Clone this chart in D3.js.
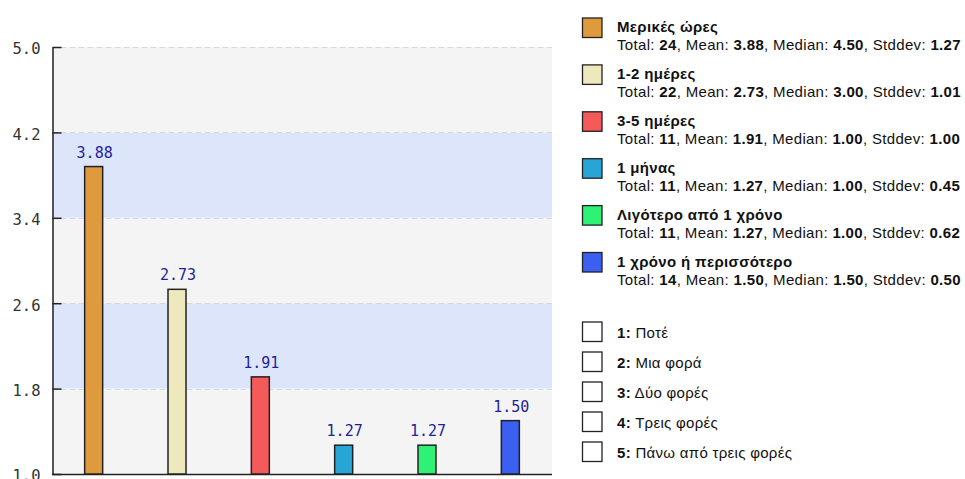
<!DOCTYPE html>
<html><head><meta charset="utf-8">
<script src="https://cdn.jsdelivr.net/npm/d3@7"></script>
<style>body{margin:0;background:#fff}svg{display:block}</style>
</head><body>
<svg id="c" width="965" height="479"></svg>
<script>
const categories = ["Μερικές ώρες","1-2 ημέρες","3-5 ημέρες","1 μήνας","Λιγότερο από 1 χρόνο","1 χρόνο ή περισσότερο"];
const means = [3.88, 2.73, 1.91, 1.27, 1.27, 1.50];
const totals = [24, 22, 11, 11, 11, 14];
const medians = ["4.50","3.00","1.00","1.00","1.00","1.50"];
const stddevs = ["1.27","1.01","1.00","0.45","0.62","0.50"];
const colors = ["#e09a3e","#eee9bd","#f45a5a","#27a6d5","#2ff173","#3b5ff0"];
const yTicks = [1.0, 1.8, 2.6, 3.4, 4.2, 5.0];
const scaleLabels = ["Ποτέ","Μια φορά","Δύο φορές","Τρεις φορές","Πάνω από τρεις φορές"];

const svg = d3.select("#c");
const L = 52, R = 552, T = 47, B = 474;
const x = d3.scaleBand().domain(categories).range([L, R]);
const y = d3.scaleLinear().domain([1, 5]).range([B, T]);

// background bands
for (let i = 0; i < yTicks.length - 1; i++) {
  svg.append("rect").attr("x", L).attr("width", R - L)
    .attr("y", y(yTicks[i+1])).attr("height", y(yTicks[i]) - y(yTicks[i+1]))
    .attr("fill", (yTicks.length - 2 - i) % 2 === 1 ? "#dde5fb" : "#f4f4f4");
}
// dashed grid
svg.append("g").selectAll("line").data(yTicks.slice(1)).join("line")
  .attr("x1", L).attr("x2", R).attr("y1", d => Math.round(y(d)) + 0.5).attr("y2", d => Math.round(y(d)) + 0.5)
  .attr("stroke", "#d8d8d8").attr("stroke-dasharray", "5,4");

// y axis
const ya = d3.axisLeft(y).tickValues(yTicks).tickFormat(d3.format(".1f")).tickSize(0).tickPadding(12);
const gy = svg.append("g").attr("transform", `translate(${L + 0.5},0)`).call(ya);
gy.select(".domain").attr("stroke", "#222").attr("stroke-width", 1.5);
gy.selectAll(".tick").append("line").attr("x1", 0).attr("x2", 9).attr("stroke", "#222").attr("stroke-width", 1.5);
gy.selectAll(".tick text").attr("font-family", "DejaVu Sans Mono").attr("font-size", 15.5).attr("fill", "#333").attr("dy", "0.45em");

// x axis line
svg.append("line").attr("x1", L).attr("x2", R).attr("y1", B + 0.5).attr("y2", B + 0.5).attr("stroke", "#222").attr("stroke-width", 1.5);

// bars
const bw = 18;
svg.append("g").selectAll("rect").data(categories).join("rect")
  .attr("x", d => x(d) + x.bandwidth() / 2 - bw / 2)
  .attr("width", bw)
  .attr("y", (d, i) => y(means[i]))
  .attr("height", (d, i) => B - y(means[i]))
  .attr("fill", (d, i) => colors[i])
  .attr("stroke", "#222").attr("stroke-width", 1.5);

// value labels
svg.append("g").selectAll("text").data(categories).join("text")
  .attr("x", d => x(d) + x.bandwidth() / 2 + 1)
  .attr("y", (d, i) => y(means[i]) - 9)
  .attr("text-anchor", "middle")
  .attr("font-family", "DejaVu Sans Mono").attr("font-size", 15)
  .attr("fill", "#1f1f9a")
  .text((d, i) => means[i].toFixed(2));

// legend 1
const lg = svg.append("g").attr("font-family", "Liberation Sans, Arial, sans-serif").attr("fill", "#111");
categories.forEach((c, i) => {
  const yy = 17.5 + i * 46.9;
  lg.append("rect").attr("x", 582.5).attr("y", yy + 0.5).attr("width", 19.5).attr("height", 19.5)
    .attr("fill", colors[i]).attr("stroke", "#222").attr("stroke-width", 1.3);
  lg.append("text").attr("x", 617).attr("y", yy + 14.5).attr("font-size", 15).attr("font-weight", "bold").attr("letter-spacing", "0.35px").text(c);
  const t = lg.append("text").attr("x", 617).attr("y", yy + 32.5).attr("font-size", 15).attr("letter-spacing", "0.33px");
  t.append("tspan").text("Total: ");
  t.append("tspan").attr("font-weight", "bold").text(totals[i]);
  t.append("tspan").text(", Mean: ");
  t.append("tspan").attr("font-weight", "bold").text(means[i].toFixed(2));
  t.append("tspan").text(", Median: ");
  t.append("tspan").attr("font-weight", "bold").text(medians[i]);
  t.append("tspan").text(", Stddev: ");
  t.append("tspan").attr("font-weight", "bold").text(stddevs[i]);
});

// legend 2
scaleLabels.forEach((s, i) => {
  const yy = 321.5 + i * 30;
  lg.append("rect").attr("x", 582.5).attr("y", yy + 0.5).attr("width", 19.5).attr("height", 19.5)
    .attr("fill", "#fff").attr("stroke", "#222").attr("stroke-width", 1.3);
  const t = lg.append("text").attr("x", 617).attr("y", yy + 16.5).attr("font-size", 15).attr("letter-spacing", "0.3px");
  t.append("tspan").attr("font-weight", "bold").text((i + 1) + ":");
  t.append("tspan").text(" " + s);
});
</script>
</body></html>
